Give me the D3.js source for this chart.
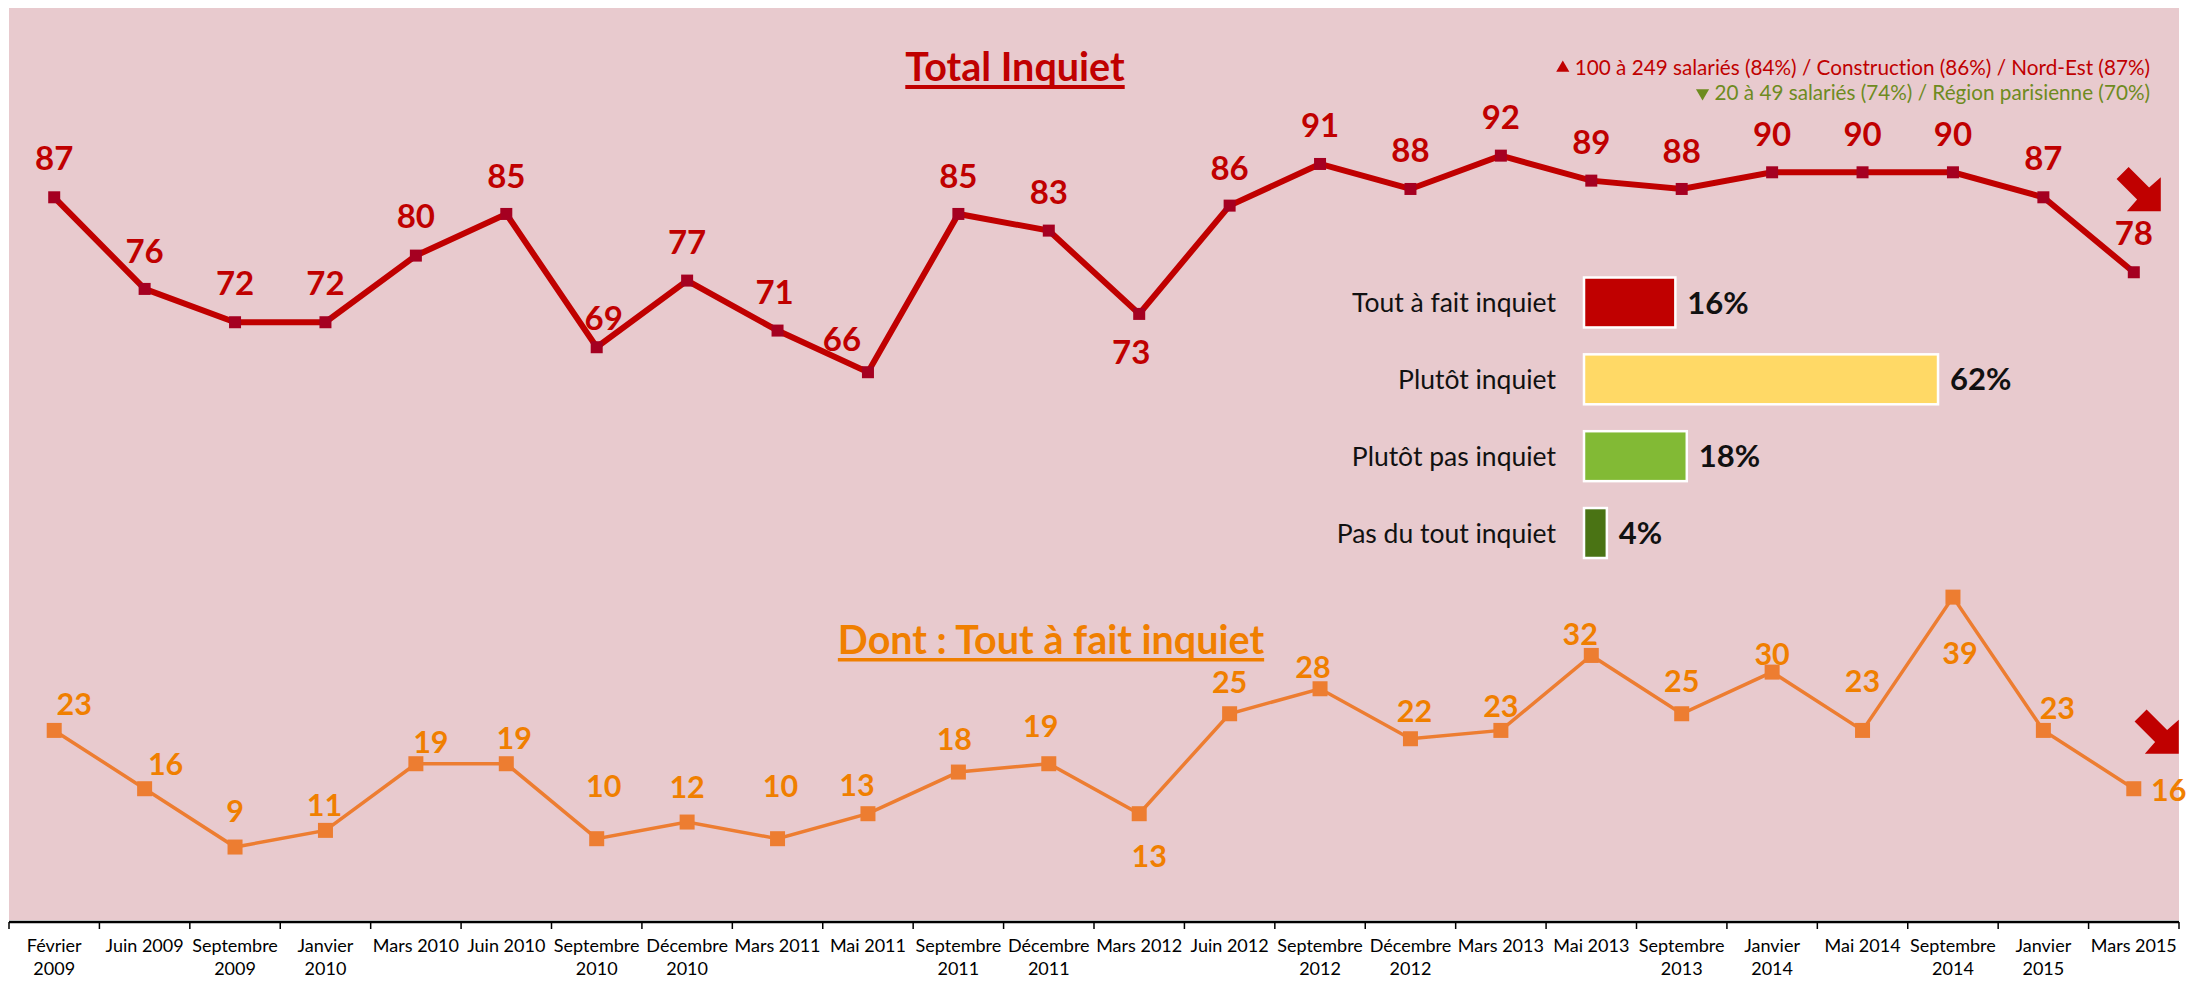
<!DOCTYPE html>
<html><head><meta charset="utf-8">
<script src="https://cdn.jsdelivr.net/npm/d3@7"></script>
<style>html,body{margin:0;padding:0;background:#fff;} svg{display:block;font-family:Lato,"Open Sans",sans-serif;font-variant-ligatures:none;font-feature-settings:"liga" 0;}</style>
</head><body><svg id="c" width="2186" height="981"></svg>
<script>
// ---------- data ----------
const categories = ["Février 2009","Juin 2009","Septembre 2009","Janvier 2010","Mars 2010","Juin 2010","Septembre 2010","Décembre 2010","Mars 2011","Mai 2011","Septembre 2011","Décembre 2011","Mars 2012","Juin 2012","Septembre 2012","Décembre 2012","Mars 2013","Mai 2013","Septembre 2013","Janvier 2014","Mai 2014","Septembre 2014","Janvier 2015","Mars 2015"];
const tickLabels = [["Février","2009"],["Juin 2009"],["Septembre","2009"],["Janvier","2010"],["Mars 2010"],["Juin 2010"],["Septembre","2010"],["Décembre","2010"],["Mars 2011"],["Mai 2011"],["Septembre","2011"],["Décembre","2011"],["Mars 2012"],["Juin 2012"],["Septembre","2012"],["Décembre","2012"],["Mars 2013"],["Mai 2013"],["Septembre","2013"],["Janvier","2014"],["Mai 2014"],["Septembre","2014"],["Janvier","2015"],["Mars 2015"]];
const totalInquiet = [87,76,72,72,80,85,69,77,71,66,85,83,73,86,91,88,92,89,88,90,90,90,87,78];
const toutAFait = [23,16,9,11,19,19,10,12,10,13,18,19,13,25,28,22,23,32,25,30,23,39,23,16];
const breakdownLabels = ["Tout à fait inquiet","Plutôt inquiet","Plutôt pas inquiet","Pas du tout inquiet"];
const breakdownValues = [16,62,18,4];
const titleTotal = "Total Inquiet";
const titleDont = "Dont : Tout à fait inquiet";
const noteUp = "100 à 249 salariés (84%) / Construction (86%) / Nord-Est (87%)";
const noteDown = "20 à 49 salariés (74%) / Région parisienne (70%)";

// ---------- layout (label nudges relative to each point) ----------
const totalNudge = [[0,-39],[0,-38],[0,-39],[0,-39],[0,-39],[0,-38],[7,-29],[0,-38],[-3,-38],[-26,-33],[0,-38],[0,-38],[-8,38],[0,-38],[0,-39],[0,-39],[0,-39],[0,-39],[0,-38],[0,-38],[0,-38],[0,-38],[0,-39],[0,-39]];
const dontNudge = [[20,-26],[21,-25],[0,-36],[-1,-25],[15,-22],[8,-26],[7,-53],[0,-35],[3,-53],[-11,-29],[-4,-33],[-8,-38],[10,42],[0,-32],[-7,-22],[4,-28],[0,-24],[-11,-21],[0,-33],[0,-18],[0,-49],[7,56],[14,-22],[35,1]];

const svg = d3.select("#c");
const plotL = 9, plotR = 2179, plotT = 8, plotB = 920;

svg.append("rect").attr("x",plotL).attr("y",plotT).attr("width",plotR-plotL).attr("height",plotB-plotT).attr("fill","#E8CACE");

const x = d3.scaleBand().domain(categories).range([plotL, plotR]).padding(0);
const y = d3.scaleLinear().domain([0,100]).range([922, 89]);
const cx = d => x(d) + x.bandwidth()/2;

// ---------- axis ----------
const axisY = 922;
svg.append("line").attr("x1",plotL).attr("x2",plotR).attr("y1",axisY).attr("y2",axisY).attr("stroke","#000").attr("stroke-width",2.5);
const bounds = categories.map(c => x(c)).concat([plotR]);
svg.selectAll(".tick").data(bounds).enter().append("line")
  .attr("x1",d=>d).attr("x2",d=>d).attr("y1",axisY).attr("y2",axisY+7).attr("stroke","#000").attr("stroke-width",1.5);
const tl = svg.selectAll(".tl").data(categories).enter().append("text")
  .attr("x",d=>cx(d)).attr("y",952).attr("text-anchor","middle").attr("font-size",18).attr("fill","#000");
tl.each(function(d,i){
  const t = d3.select(this);
  tickLabels[i].forEach((s,j)=>{ t.append("tspan").attr("x",cx(d)).attr("dy", j===0?0:23).text(s); });
});

// ---------- Total Inquiet series ----------
const lineGen = (arr) => d3.line().x((d,i)=>cx(categories[i])).y(d=>y(d))(arr);
svg.append("path").attr("d",lineGen(totalInquiet)).attr("fill","none").attr("stroke","#C00000").attr("stroke-width",6).attr("stroke-linejoin","miter");
svg.selectAll(".mt").data(totalInquiet).enter().append("rect")
  .attr("x",(d,i)=>cx(categories[i])-6).attr("y",d=>y(d)-6).attr("width",12).attr("height",12).attr("fill","#A50021");
svg.selectAll(".lt").data(totalInquiet).enter().append("text")
  .attr("x",(d,i)=>cx(categories[i])+totalNudge[i][0]).attr("y",(d,i)=>y(d)+totalNudge[i][1]).attr("dy","0.36em")
  .attr("text-anchor","middle").attr("font-size",33).attr("font-weight","bold").attr("fill","#C00000").text(d=>d);

// ---------- Tout à fait series ----------
svg.append("path").attr("d",lineGen(toutAFait)).attr("fill","none").attr("stroke","#ED7D31").attr("stroke-width",3.5);
svg.selectAll(".mo").data(toutAFait).enter().append("rect")
  .attr("x",(d,i)=>cx(categories[i])-7.5).attr("y",d=>y(d)-7.5).attr("width",15).attr("height",15).attr("fill","#ED7D31");
svg.selectAll(".lo").data(toutAFait).enter().append("text")
  .attr("x",(d,i)=>cx(categories[i])+dontNudge[i][0]).attr("y",(d,i)=>y(d)+dontNudge[i][1]).attr("dy","0.36em")
  .attr("text-anchor","middle").attr("font-size",30.5).attr("font-weight","bold").attr("fill","#F07F00").text(d=>d);

// ---------- titles ----------
function underlinedTitle(txt, xc, yb, size, color, gap, thick){
  const t = svg.append("text").attr("x",xc).attr("y",yb).attr("text-anchor","middle")
    .attr("font-size",size).attr("font-weight","bold").attr("fill",color).text(txt);
  const w = t.node().getComputedTextLength();
  svg.append("rect").attr("x",xc-w/2).attr("y",yb+gap).attr("width",w).attr("height",thick).attr("fill",color);
}
underlinedTitle(titleTotal, 1015, 81, 39.5, "#C00000", 4, 4);
underlinedTitle(titleDont, 1051, 654, 39.5, "#F07F00", 4, 3.5);

// ---------- notes ----------
function note(txt, yb, color, up){
  const t = svg.append("text").attr("x",2150).attr("y",yb).attr("text-anchor","end")
    .attr("font-size",20.7).attr("fill",color).text(txt);
  const w = t.node().getComputedTextLength();
  svg.append("path").attr("d", d3.symbol().type(d3.symbolTriangle).size(75)())
    .attr("transform",`translate(${2150-w-12},${yb-7}) rotate(${up?0:180})`).attr("fill",color);
}
note(noteUp, 75, "#C00000", true);
note(noteDown, 100, "#6E8B1E", false);

// ---------- breakdown bars ----------
const bx = d3.scaleLinear().domain([0,100]).range([1584, 1584+571]);
const by = d3.scaleBand().domain(breakdownLabels).range([277.5, 558]).paddingInner(0.35).paddingOuter(0);
const barColors = ["#C00000","#FFD966","#82BA35","#4A7314"];
svg.selectAll(".bar").data(breakdownValues).enter().append("rect")
  .attr("x",bx(0)).attr("y",(d,i)=>by(breakdownLabels[i])).attr("width",d=>bx(d)-bx(0)).attr("height",by.bandwidth())
  .attr("fill",(d,i)=>barColors[i]).attr("stroke","#fff").attr("stroke-width",2.5);
svg.selectAll(".bl").data(breakdownLabels).enter().append("text")
  .attr("x",1556).attr("y",d=>by(d)+by.bandwidth()/2).attr("dy","0.36em").attr("text-anchor","end")
  .attr("font-size",26.5).attr("fill","#111").text(d=>d);
svg.selectAll(".bv").data(breakdownValues).enter().append("text")
  .attr("x",d=>bx(d)+12).attr("y",(d,i)=>by(breakdownLabels[i])+by.bandwidth()/2).attr("dy","0.36em")
  .attr("font-size",31).attr("font-weight","bold").attr("fill","#111").text(d=>d+"%");

// ---------- trend arrows ----------
const arrowPath = "M0,0 L-24,-24 L-25,-8.5 L-54,-8.5 L-54,8.5 L-25,8.5 L-24,24 Z";
function arrow(tx, ty){
  svg.append("path").attr("d",arrowPath).attr("transform",`translate(${tx},${ty}) rotate(45)`).attr("fill","#C00000");
}
const lastX = cx(categories[categories.length-1]);
arrow(lastX+27, y(totalInquiet[totalInquiet.length-1])-61);
arrow(lastX+45, y(toutAFait[toutAFait.length-1])-35);
</script></body></html>
